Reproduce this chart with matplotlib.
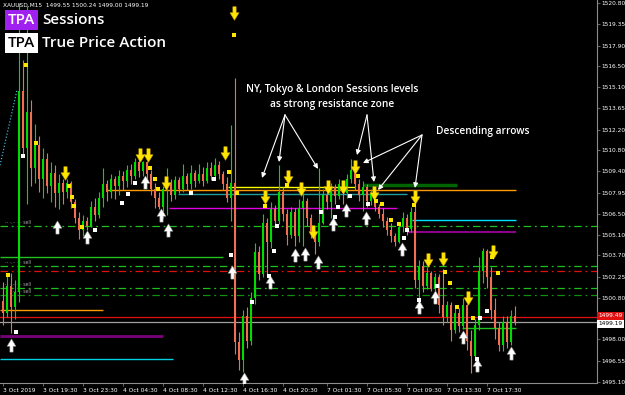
import matplotlib
matplotlib.use("Agg")
import matplotlib.pyplot as plt
import numpy as np
from matplotlib.path import Path

# ---- candles (M15 XAUUSD), open of bar i = close of bar i-1 ----
first_open = 1500.6
closes = [
    1499.8, 1501.6, 1500.2, 1501.2, 1514.8, 1511.0, 1513.4, 1509.6, 1511.2, 1508.9,
    1510.2, 1508.4, 1509.3, 1507.9, 1508.6, 1508.0, 1508.6, 1507.3, 1506.2, 1505.4,
    1506.0, 1505.7, 1507.0, 1506.4, 1507.6, 1508.5, 1508.0, 1508.9, 1508.4, 1509.1,
    1508.7, 1509.5, 1509.1, 1510.0, 1509.4, 1510.0, 1509.2, 1508.2, 1507.6, 1507.0,
    1508.2, 1508.6, 1507.8, 1508.8, 1508.2, 1509.1, 1508.5, 1509.3, 1508.7, 1509.2,
    1508.7, 1509.6, 1509.1, 1509.8, 1509.2, 1508.5, 1507.6, 1508.6, 1497.8, 1496.6,
    1499.6, 1497.9, 1500.8, 1503.9, 1502.4, 1505.9, 1504.6, 1506.8, 1506.0, 1508.0,
    1506.5, 1505.1, 1506.6, 1505.0, 1506.9, 1507.4, 1506.2, 1505.3, 1504.6, 1505.9,
    1507.8, 1507.3, 1508.3, 1507.7, 1508.5, 1507.9, 1508.9, 1509.5, 1508.5, 1507.8,
    1508.3, 1507.4, 1507.9, 1507.0, 1506.5, 1506.0, 1505.4, 1505.0, 1504.6, 1505.6,
    1506.2, 1505.5, 1506.6, 1502.0, 1503.0, 1501.6, 1502.5, 1501.4, 1502.2, 1500.3,
    1499.5, 1500.3, 1498.6, 1499.8, 1498.9, 1500.3, 1497.9, 1496.9, 1499.0, 1502.6,
    1504.0, 1502.2, 1500.0, 1498.8, 1497.6, 1499.2, 1497.8, 1499.55, 1499.19,
]
highs = [
    1501.9, 1502.4, 1502.5, 1502.0, 1520.8, 1516.9, 1520.6, 1514.2, 1512.6, 1511.8,
    1511.0, 1510.6, 1510.0, 1509.8, 1509.2, 1508.9, 1508.9, 1508.7, 1507.5, 1506.6,
    1506.4, 1506.3, 1507.4, 1507.6, 1508.0, 1509.6, 1508.8, 1509.2, 1509.1, 1509.5,
    1509.4, 1509.8, 1509.9, 1510.3, 1510.2, 1510.1, 1510.1, 1509.5, 1508.6, 1508.0,
    1508.4, 1509.6, 1508.9, 1509.1, 1509.0, 1509.9, 1509.3, 1509.8, 1509.5, 1509.9,
    1509.7, 1510.0, 1510.0, 1510.3, 1510.1, 1509.4, 1509.0, 1512.5, 1515.7, 1498.5,
    1500.0, 1500.2, 1501.2, 1504.5, 1504.3, 1506.5, 1506.2, 1507.3, 1507.1, 1509.8,
    1508.3, 1506.8, 1507.0, 1506.9, 1507.5, 1507.9, 1507.6, 1506.5, 1505.4, 1509.6,
    1508.2, 1508.3, 1508.6, 1508.5, 1508.9, 1508.6, 1509.2, 1510.2, 1509.3, 1508.9,
    1508.7, 1508.5, 1508.2, 1507.6, 1507.2, 1506.9, 1506.3, 1505.9, 1505.2, 1505.9,
    1506.6, 1506.5, 1507.0, 1507.3, 1503.4, 1503.3, 1502.9, 1502.6, 1502.5, 1502.4,
    1502.8, 1500.6, 1500.5, 1500.1, 1500.1, 1500.8, 1500.4, 1498.6, 1499.4, 1503.6,
    1504.2, 1504.1, 1502.9, 1500.8, 1499.2, 1499.6, 1499.6, 1500.0, 1500.24,
]
lows = [
    1499.0, 1499.5, 1498.4, 1499.4, 1500.5, 1510.4, 1507.2, 1508.4, 1508.6, 1508.0,
    1507.6, 1507.9, 1507.3, 1507.0, 1506.8, 1507.2, 1507.6, 1506.9, 1505.9, 1504.8,
    1505.0, 1505.4, 1505.6, 1506.0, 1506.2, 1507.0, 1507.4, 1507.6, 1507.5, 1507.8,
    1508.1, 1508.3, 1508.5, 1508.9, 1509.0, 1509.1, 1508.6, 1507.8, 1506.9, 1506.8,
    1506.2, 1506.4, 1507.4, 1507.5, 1507.9, 1508.0, 1508.1, 1508.2, 1508.3, 1508.6,
    1508.4, 1508.6, 1508.8, 1508.9, 1508.9, 1508.1, 1507.3, 1506.0, 1497.0, 1495.9,
    1495.8, 1497.4, 1497.6, 1500.4, 1502.0, 1502.2, 1502.3, 1504.2, 1505.6, 1505.8,
    1506.0, 1504.4, 1504.9, 1504.3, 1504.6, 1504.3, 1505.7, 1504.9, 1503.8, 1504.3,
    1505.8, 1506.8, 1506.2, 1507.2, 1507.5, 1507.2, 1507.6, 1508.6, 1508.1, 1507.4,
    1506.7, 1507.0, 1507.1, 1506.7, 1506.2, 1505.6, 1505.1, 1504.6, 1504.3, 1504.5,
    1505.3, 1505.1, 1505.3, 1501.5, 1500.6, 1501.2, 1501.4, 1501.3, 1501.3, 1499.8,
    1499.0, 1499.2, 1497.9, 1498.4, 1498.5, 1498.7, 1497.3, 1495.7, 1496.8, 1498.6,
    1501.8, 1501.5, 1499.4, 1498.0, 1497.2, 1497.2, 1497.4, 1497.6, 1499.0,
]

# ---- indicator signals (bar index, price) ----
sell_arrow_bar = [15.5, 34.25, 36.25, 40.75, 55.5, 57.75, 65.5, 71.25, 74.5, 77.5,
                  81.25, 85, 88, 92.75, 103, 106.25, 110, 116.25, 122.5]
sell_arrow_price = [1509.27, 1510.49, 1510.49, 1508.6, 1510.63, 1520.12, 1507.65, 1509.0,
                    1508.19, 1505.27, 1508.33, 1508.33, 1509.68, 1507.92, 1507.65,
                    1503.38, 1503.44, 1500.8, 1503.92]
buy_arrow_bar = [2, 13.5, 21, 35.5, 39.5, 41.25, 57.25, 60.25, 66.75, 73, 75.5, 78.75,
                 82.5, 85.75, 90.75, 99.75, 104, 108, 115, 118.5, 127]
buy_arrow_price = [1497.61, 1505.61, 1504.94, 1508.66, 1506.43, 1505.41, 1502.56, 1495.31,
                   1501.88, 1503.72, 1503.78, 1503.24, 1505.82, 1506.77, 1506.22,
                   1504.12, 1500.19, 1500.87, 1498.16, 1496.26, 1497.07]
yellow_dot_bar = [5.75, 8.25, 16.5, 17.25, 17.75, 19.75, 1.25, 36.75, 38, 38.75, 56.5,
                  58.5, 57.75, 65.5, 71, 88.75, 93.25, 94.75, 97, 99, 102.75, 110.5,
                  111.75, 113.5, 117.5, 122.25, 123.75]
yellow_dot_price = [1516.6, 1511.3, 1508.39, 1507.65, 1507.04, 1505.61, 1502.36, 1509.61,
                    1508.87, 1508.19, 1509.34, 1507.92, 1518.63, 1507.04, 1508.46,
                    1509.07, 1507.38, 1507.17, 1506.09, 1505.82, 1507.1, 1502.56,
                    1501.82, 1500.19, 1499.44, 1503.58, 1502.49]
white_dot_bar = [5, 23, 3.25, 29.75, 31.25, 33, 47, 52.75, 57, 62.25, 66.5, 67.75, 68.5,
                 79.5, 83, 83.75, 86.75, 91.25, 101, 100.25, 104, 108.5, 121, 119.25,
                 118.5]
white_dot_price = [1510.43, 1505.41, 1498.49, 1507.24, 1507.85, 1508.6, 1507.92, 1508.87,
                   1503.72, 1500.53, 1502.29, 1503.99, 1505.68, 1506.63, 1506.29,
                   1506.97, 1507.72, 1507.17, 1505.41, 1504.87, 1500.66, 1501.61,
                   1499.92, 1499.44, 1496.66]

# ---- session levels: price, first bar, last bar, colour, width ----
level_price = [1508.15, 1508.35, 1507.85, 1508.45, 1506.9, 1506.1, 1505.3,
               1503.6, 1498.8, 1500.0, 1498.2, 1496.7]
level_start = [26, 56.25, 43.75, 90, 41.5, 102.25, 101.25, -0.75, 114.75, -0.75, -0.75, -0.75]
level_end = [128.25, 88, 101, 113.5, 98.5, 128.25, 128.25, 55, 128.25, 25, 40, 42.5]
level_color = ["#ff9900", "#ffff00", "#1f9c9c", "#006400", "#e000e0", "#00e5ff",
               "#8a008a", "#20c020", "#20c020", "#ff9900", "#7a007a", "#00d0e0"]
level_width = [1.0, 1.0, 1.0, 2.5, 1.0, 1.0, 1.5, 1.0, 1.0, 1.0, 2.0, 1.0]

pivot_price = [1505.68, 1502.97, 1502.63, 1501.48, 1501.0]
pivot_color = ["#1ec01e", "#1ec01e", "#e01010", "#1ec01e", "#128c12"]
pivot_tag_price = [1505.9, 1503.2, 1501.75, 1501.25]

trend_bar = [-0.75, 3.5]
trend_price = [1509.8, 1514.9]

bid_price = 1499.49
last_price = 1499.19

price_ticks = [1520.80, 1519.35, 1517.90, 1516.50, 1515.10, 1513.65, 1512.20, 1510.80,
               1509.40, 1507.95, 1506.50, 1505.10, 1503.70, 1502.25, 1500.80, 1498.00,
               1496.55, 1495.10]
time_tick_bar = [0, 10, 20, 30, 40, 50, 60, 70, 81, 91, 101, 111, 121]
time_tick_label = ["3 Oct 2019", "3 Oct 19:30", "3 Oct 23:30", "4 Oct 04:30",
                   "4 Oct 08:30", "4 Oct 12:30", "4 Oct 16:30", "4 Oct 20:30",
                   "7 Oct 01:30", "7 Oct 05:30", "7 Oct 09:30", "7 Oct 13:30",
                   "7 Oct 17:30"]

# callouts: label anchor and the candles they point to
callout1_from = (70.5, 1513.21)
callout1_to = [(64.75, 1508.94), (69, 1510.02), (78.75, 1509.55)]
callout2_from = (91, 1513.21)
callout2_to = [(88.5, 1510.49), (92.75, 1508.66)]
callout3_from = (104.75, 1511.85)
callout3_to = [(90, 1509.95), (93.75, 1508.12), (103, 1508.26)]

BULL = "#00dc00"
BEAR = "#f26e50"
AXIS = "#8c8c8c"

plt.rcParams["font.family"] = ["DejaVu Sans"]

fig = plt.figure(figsize=(6.25, 3.95), dpi=100, facecolor="black")
ax = fig.add_axes([0.0, 12 / 395, 597 / 625, 383 / 395])
ax.set_facecolor("black")
ax.set_xlim(-0.75, 148.5)
ax.set_ylim(1495.04, 1521.0)

# levels
for p, c in zip(pivot_price, pivot_color):
    ax.axhline(p, color=c, lw=0.9, ls=(0, (6, 3, 1.5, 3)), zorder=1)
for p in pivot_tag_price:
    ax.text(0.5, p, "·- ·.·· - · sell", fontsize=3.3, color="#a8a8a8", va="center",
            ha="left", zorder=2)
for p, s, e, c, w in zip(level_price, level_start, level_end, level_color, level_width):
    ax.hlines(p, s, e, colors=c, lw=w, zorder=1)
ax.axhline(bid_price, color="#e01010", lw=0.9, zorder=1)
ax.axhline(last_price, color="#a0a0a0", lw=0.9, zorder=1)
ax.plot(trend_bar, trend_price, color="#40b0d0", lw=0.9, ls=(0, (1, 1.5)), zorder=1)

# candles
o = np.array([first_open] + closes[:-1])
c = np.array(closes)
h = np.array(highs)
l = np.array(lows)
x = np.arange(len(c))
col = np.where(c >= o, BULL, BEAR)
ax.vlines(x, l, h, colors=col, lw=0.8, zorder=3)
body = np.maximum(np.abs(c - o), 0.06)
ax.bar(x, body, bottom=np.minimum(o, c), width=0.62, color=col, lw=0, zorder=3)

# signal markers
down_arrow = Path([(-0.22, 0.9), (0.22, 0.9), (0.22, 0.1), (0.6, 0.1), (0, -0.9),
                   (-0.6, 0.1), (-0.22, 0.1), (-0.22, 0.9)])
up_arrow = Path([(px, -py) for px, py in down_arrow.vertices])
ax.scatter(sell_arrow_bar, sell_arrow_price, marker=down_arrow, s=95, c="#ffe600",
           edgecolors="#c8a000", linewidths=0.4, zorder=5)
ax.scatter(buy_arrow_bar, buy_arrow_price, marker=up_arrow, s=90, c="white",
           edgecolors="#909090", linewidths=0.4, zorder=5)
ax.scatter(yellow_dot_bar, yellow_dot_price, marker="s", s=5, c="#ffe600", lw=0, zorder=5)
ax.scatter(white_dot_bar, white_dot_price, marker="s", s=5, c="white", lw=0, zorder=5)

# callouts
arrow_kw = dict(arrowstyle="-|>", color="white", lw=0.8, mutation_scale=7,
                shrinkA=0, shrinkB=0)
for src, targets in [(callout1_from, callout1_to), (callout2_from, callout2_to),
                     (callout3_from, callout3_to)]:
    for t in targets:
        ax.annotate("", xy=t, xytext=src, arrowprops=arrow_kw, zorder=6)
note_font = dict(color="white", fontsize=7.3, fontweight="semibold",
                 family=["Open Sans", "DejaVu Sans"], ha="center", va="center", zorder=7)
ax.text(82.25, 1514.9, "NY, Tokyo & London Sessions levels", **note_font)
ax.text(82.25, 1513.95, "as strong resistance zone", **note_font)
ax.text(120, 1512.12, "Descending arrows", **note_font)

# axes styling
for side in ["left", "top"]:
    ax.spines[side].set_visible(False)
for side in ["right", "bottom"]:
    ax.spines[side].set_color(AXIS)
    ax.spines[side].set_linewidth(0.8)
ax.yaxis.tick_right()
ax.set_yticks(price_ticks)
ax.set_yticklabels([f"{v:.2f}" for v in price_ticks])
ax.set_xticks(time_tick_bar)
ax.set_xticklabels(time_tick_label, ha="left")
ax.tick_params(colors=AXIS, labelcolor="white", labelsize=4.2, length=2, width=0.5, pad=1.5)

ytr = ax.get_yaxis_transform()
ax.text(1.003, bid_price + 0.1, "1499.49", transform=ytr, fontsize=4.2, color="white",
        va="center", ha="left", clip_on=False, zorder=8,
        bbox=dict(boxstyle="square,pad=0.25", fc="#e01010", ec="none"))
ax.text(1.003, last_price - 0.14, "1499.19", transform=ytr, fontsize=4.2, color="black",
        va="center", ha="left", clip_on=False, zorder=9,
        bbox=dict(boxstyle="square,pad=0.25", fc="white", ec="none"))

# header
fig.text(3 / 625, 1 - 5 / 395, "XAUUSD,M15  1499.55 1500.24 1499.00 1499.19",
         fontsize=4.2, color="white", va="center", ha="left")
title_font = dict(fontsize=11, fontweight="semibold", family=["Open Sans", "DejaVu Sans"],
                  va="center", ha="left")
fig.text(8 / 625, 1 - 20 / 395, "TPA", color="white",
         bbox=dict(boxstyle="square,pad=0.2", fc="#a020f0", ec="none"), **title_font)
fig.text(42 / 625, 1 - 20 / 395, "Sessions", color="white", **title_font)
fig.text(8 / 625, 1 - 43 / 395, "TPA", color="black",
         bbox=dict(boxstyle="square,pad=0.2", fc="white", ec="none"), **title_font)
fig.text(42 / 625, 1 - 43 / 395, "True Price Action", color="white", **title_font)

fig.savefig("out.png", dpi=100, facecolor="black")
